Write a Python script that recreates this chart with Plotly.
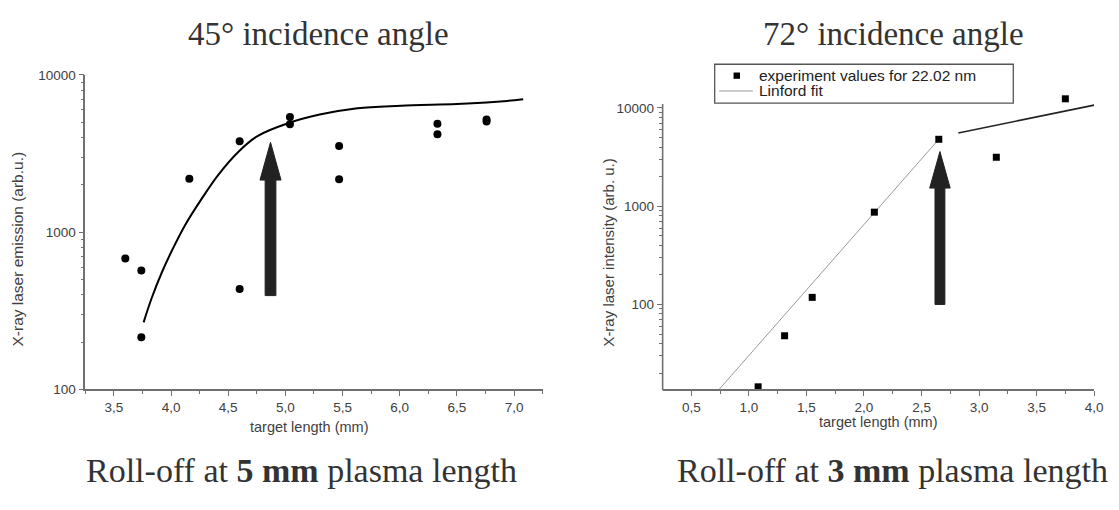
import plotly.graph_objects as go

# ---------------- data ----------------
# Left panel: 45 deg incidence
left_x = [3.60, 3.74, 3.74, 4.16, 4.60, 4.60, 5.04, 5.04, 5.47, 5.47, 6.33, 6.33, 6.76, 6.76]
left_y = [680, 570, 215, 2190, 3780, 435, 5400, 4850, 3530, 2170, 4900, 4200, 5200, 5050]
curve_x = [3.76, 3.83, 3.92, 4.01, 4.12, 4.27, 4.41, 4.59, 4.76, 5.03, 5.30, 5.63, 6.01, 6.50, 6.76, 6.94, 7.08]
curve_y = [267, 380, 556, 770, 1100, 1640, 2300, 3250, 4100, 4950, 5600, 6150, 6370, 6530, 6680, 6840, 7010]

# Right panel: 72 deg incidence
right_x = [1.08, 1.31, 1.55, 2.09, 2.65, 3.15, 3.75]
right_y = [14.5, 48, 118, 870, 4800, 3150, 12400]
fit1_x = [0.74, 2.65]
fit1_y = [13.6, 4800]
fit2_x = [2.82, 4.0]
fit2_y = [5560, 10700]

left_xticks = [3.5, 4.0, 4.5, 5.0, 5.5, 6.0, 6.5, 7.0]
left_xticktext = ["3,5", "4,0", "4,5", "5,0", "5,5", "6,0", "6,5", "7,0"]
right_xticks = [0.5, 1.0, 1.5, 2.0, 2.5, 3.0, 3.5, 4.0]
right_xticktext = ["0,5", "1,0", "1,5", "2,0", "2,5", "3,0", "3,5", "4,0"]
left_yticks = [100, 1000, 10000]
right_yticks = [100, 1000, 10000]

# arrows: (x centre, tail, head base, tip)
left_arrow = (4.87, 395, 2145, 3730)
right_arrow = (2.66, 100, 1530, 3600)

W, H = 1119, 510
AX = "#707070"
TXT = "#404040"
SANS = "Liberation Sans, Arial, sans-serif"
SERIF = "Liberation Serif, Times New Roman, serif"

fig = go.Figure()


def arrow_poly(a, shaft_half, head_half):
    xc, tail, base, tip = a
    xs = [xc - shaft_half, xc - shaft_half, xc - head_half, xc, xc + head_half, xc + shaft_half, xc + shaft_half, xc - shaft_half]
    ys = [tail, base, base, tip, base, base, tail, tail]
    return xs, ys


# left panel
fig.add_trace(go.Scatter(x=curve_x, y=curve_y, mode="lines", line=dict(color="black", width=2, shape="spline", smoothing=1.0),
                         xaxis="x", yaxis="y", showlegend=False))
fig.add_trace(go.Scatter(x=left_x, y=left_y, mode="markers", marker=dict(symbol="circle", size=8, color="black"),
                         xaxis="x", yaxis="y", showlegend=False, cliponaxis=False))
ax_, ay_ = arrow_poly(left_arrow, 0.047, 0.092)
fig.add_trace(go.Scatter(x=ax_, y=ay_, mode="lines", fill="toself", fillcolor="#222222",
                         line=dict(color="#222222", width=1), xaxis="x", yaxis="y", showlegend=False, hoverinfo="skip"))

# right panel
fig.add_trace(go.Scatter(x=fit1_x, y=fit1_y, mode="lines", line=dict(color="#9a9a9a", width=1),
                         xaxis="x2", yaxis="y2", showlegend=False))
fig.add_trace(go.Scatter(x=fit2_x, y=fit2_y, mode="lines", line=dict(color="#222222", width=1.6),
                         xaxis="x2", yaxis="y2", showlegend=False))
fig.add_trace(go.Scatter(x=right_x, y=right_y, mode="markers", marker=dict(symbol="square", size=7, color="black"),
                         xaxis="x2", yaxis="y2", showlegend=False, cliponaxis=False))
bx_, by_ = arrow_poly(right_arrow, 0.043, 0.089)
fig.add_trace(go.Scatter(x=bx_, y=by_, mode="lines", fill="toself", fillcolor="#222222",
                         line=dict(color="#222222", width=1), xaxis="x2", yaxis="y2", showlegend=False, hoverinfo="skip"))


def px_x(p):
    return p / W


def px_y(p):
    return 1 - p / H


def minor_log(lo, hi):
    vals = []
    for d in range(lo, hi):
        for m in range(2, 10):
            vals.append(m * 10 ** d)
    return vals


common_axis = dict(showline=True, linecolor=AX, linewidth=1.6, ticks="outside", ticklen=5, tickwidth=1.3,
                   tickcolor=AX, showgrid=False, zeroline=False, mirror=False,
                   tickfont=dict(family=SANS, size=13.5, color=TXT))

# right y axis: range extended slightly above the drawn axis line so the top point shows
R_TOP_PX, R_BOT_PX = 88, 394
r_lo = 1.135
r_dec_px = 101.3
r_hi = 4.04 + (100 - R_TOP_PX) / r_dec_px

fig.update_layout(
    width=W, height=H, margin=dict(l=0, r=0, t=0, b=0),
    paper_bgcolor="white", plot_bgcolor="white", showlegend=False,
    xaxis=dict(domain=[px_x(86), px_x(547)], range=[3.25, 7.25], anchor="y",
               tickmode="array", tickvals=left_xticks, ticktext=left_xticktext,
               minor=dict(tickvals=[3.25 + 0.5 * i for i in range(9)], ticks="outside", ticklen=3, tickcolor=AX, tickwidth=1.2),
               **common_axis),
    yaxis=dict(domain=[px_y(394), px_y(70)], type="log", range=[2, 4], anchor="x",
               tickmode="array", tickvals=left_yticks, ticktext=[str(v) for v in left_yticks],
               minor=dict(tickvals=minor_log(2, 4), ticks="outside", ticklen=3, tickcolor=AX, tickwidth=1.2),
               **common_axis),
    xaxis2=dict(domain=[px_x(668), px_x(1103)], range=[0.25, 4.0], anchor="y2",
                tickmode="array", tickvals=right_xticks, ticktext=right_xticktext,
                minor=dict(tickvals=[0.75 + 0.5 * i for i in range(7)], ticks="outside", ticklen=3, tickcolor=AX, tickwidth=1.2),
                **common_axis),
    yaxis2=dict(domain=[px_y(R_BOT_PX), px_y(R_TOP_PX)], type="log", range=[r_lo, r_hi], anchor="x2",
                tickmode="array", tickvals=right_yticks, ticktext=[str(v) for v in right_yticks],
                minor=dict(tickvals=minor_log(1, 4), ticks="outside", ticklen=3, tickcolor=AX, tickwidth=1.2),
                **{**common_axis, "showline": False}),
)

annotations = [
    dict(text="45° incidence angle", x=px_x(321), y=px_y(28), font=dict(family=SERIF, size=33, color="#333")),
    dict(text="72° incidence angle", x=px_x(901), y=px_y(28), font=dict(family=SERIF, size=33, color="#333")),
    dict(text="Roll-off at <b>5 mm</b> plasma length", x=px_x(304), y=px_y(478), font=dict(family=SERIF, size=34, color="#333")),
    dict(text="Roll-off at <b>3 mm</b> plasma length", x=px_x(900), y=px_y(478), font=dict(family=SERIF, size=34, color="#333")),
    dict(text="X-ray laser emission (arb.u.)", x=px_x(18), y=px_y(249), textangle=-90, font=dict(family=SANS, size=15.5, color=TXT)),
    dict(text="X-ray laser intensity (arb. u.)", x=px_x(613), y=px_y(253), textangle=-90, font=dict(family=SANS, size=15, color=TXT)),
    dict(text="target length (mm)", x=px_x(312), y=px_y(433), font=dict(family=SANS, size=14.5, color=TXT)),
    dict(text="target length (mm)", x=px_x(885), y=px_y(428), font=dict(family=SANS, size=14.5, color=TXT)),
    dict(text="experiment values for 22.02 nm", x=px_x(763), y=px_y(70.5), xanchor="left", font=dict(family=SANS, size=15.5, color="#222")),
    dict(text="Linford fit", x=px_x(763), y=px_y(86.5), xanchor="left", font=dict(family=SANS, size=15.5, color="#222")),
]
for a in annotations:
    a.setdefault("xanchor", "center")
    a.update(xref="paper", yref="paper", yanchor="middle", showarrow=False)
fig.update_layout(annotations=annotations)

shapes = [
    # right y axis line (ends at the 10^4.04 level as in the original)
    dict(type="line", x0=px_x(668), x1=px_x(668), y0=px_y(R_BOT_PX + 0.8), y1=px_y(100), line=dict(color=AX, width=1.6)),
    # legend box
    dict(type="rect", x0=px_x(720.5), x1=px_x(1021.5), y0=px_y(99), y1=px_y(59), line=dict(color="#555", width=1.3),
         fillcolor="white", layer="above"),
    dict(type="rect", x0=px_x(739.5), x1=px_x(746), y0=px_y(74), y1=px_y(67.5), line=dict(width=0), fillcolor="black"),
    dict(type="line", x0=px_x(725), x1=px_x(759), y0=px_y(86.5), y1=px_y(86.5), line=dict(color="#9a9a9a", width=1)),
]
for s in shapes:
    s.update(xref="paper", yref="paper")
fig.update_layout(shapes=shapes)

fig.write_html("out.html", config={"displayModeBar": False},
               post_script="document.body.style.margin='0px';document.body.style.overflow='hidden';")
